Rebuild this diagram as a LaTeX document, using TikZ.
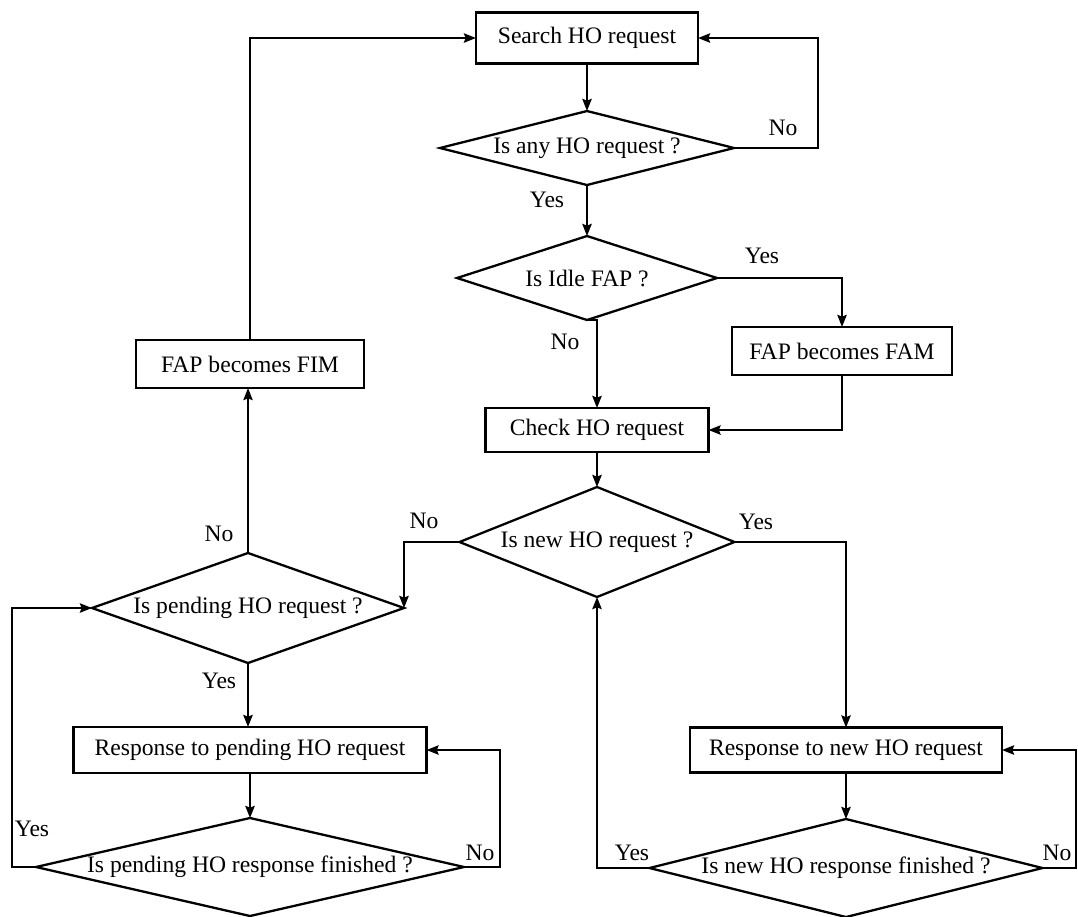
\documentclass[tikz,border=0pt]{standalone}
\usepackage{fontspec}
\setmainfont{Liberation Serif}
\usetikzlibrary{shapes.geometric,arrows.meta}
\tikzset{
  txt/.style={font=\fontsize{11.8pt}{14pt}\selectfont},
  procbox/.style={txt,draw,rectangle,line width=1.15pt,inner sep=0pt,outer sep=0pt},
  decide/.style={txt,draw,diamond,line width=1.15pt,inner sep=-4pt,outer sep=0pt},
  flow/.style={line width=1.15pt,-{Stealth[length=6pt,width=4.6pt,inset=0.8pt]}},
  lbl/.style={txt,inner sep=0pt}
}
\begin{document}
\begin{tikzpicture}[x=0.5pt,y=-0.5pt]
  \useasboundingbox (0,0) rectangle (1078,917);

  % process boxes
  \node[procbox,minimum width=111pt,minimum height=25.5pt] (search) at (587,38) {Search HO request};
  \node[procbox,minimum width=110pt,minimum height=24pt] (fam) at (842,351) {FAP becomes FAM};
  \node[procbox,minimum width=111.5pt,minimum height=22pt] (check) at (597,430) {Check HO request};
  \node[procbox,minimum width=114pt,minimum height=24pt] (fim) at (250,364) {FAP becomes FIM};
  \node[procbox,minimum width=176.5pt,minimum height=23pt] (rpend) at (250,750) {Response to pending HO request};
  \node[procbox,minimum width=156pt,minimum height=22.5pt] (rnew) at (846,750) {Response to new HO request};

  % decisions
  \node[decide,minimum width=147pt,minimum height=37pt,aspect=3.97] (any) at (587,148) {Is any HO request ?};
  \node[decide,minimum width=130pt,minimum height=42pt,aspect=3.1] (idle) at (587,278) {Is Idle FAP ?};
  \node[decide,minimum width=137.5pt,minimum height=55pt,aspect=2.5] (new) at (597,542) {Is new HO request ?};
  \node[decide,minimum width=156pt,minimum height=55pt,aspect=2.84] (pend) at (248,608) {Is pending HO request ?};
  \node[decide,minimum width=214pt,minimum height=49pt,aspect=4.37] (pfin) at (250,867) {Is pending HO response finished ?};
  \node[decide,minimum width=196.5pt,minimum height=49pt,aspect=4.0] (nfin) at (846,868) {Is new HO response finished ?};

  % turning points of the loops
  \coordinate (anyR) at (818,148);
  \coordinate (pfinL) at (12,867);
  \coordinate (pfinR) at (500,867);
  \coordinate (nfinR) at (1076,868);

  % connectors
  \draw[flow] (search.south) -- (any.north);
  \draw[flow] (any.east) -- (anyR) |- (search.east);
  \draw[flow] (any.south) -- (idle.north);
  \draw[flow] (idle.east) -| (fam.north);
  \draw[flow] (idle.south) -- (idle.south -| check.north) -- (check.north);
  \draw[flow] (fam.south) |- (check.east);
  \draw[flow] (check.south) -- (new.north);
  \draw[flow] (new.west) -| (pend.east);
  \draw[flow] (pend.north) -- (pend.north |- fim.south);
  \draw[flow] (fim.north) |- (search.west);
  \draw[flow] (pend.south) -- (pend.south |- rpend.north);
  \draw[flow] (rpend.south) -- (pfin.north);
  \draw[flow] (pfin.west) -- (pfinL) |- (pend.west);
  \draw[flow] (pfin.east) -- (pfinR) |- (rpend.east);
  \draw[flow] (new.east) -| (rnew.north);
  \draw[flow] (rnew.south) -- (nfin.north);
  \draw[flow] (nfin.west) -| (new.south);
  \draw[flow] (nfin.east) -- (nfinR) |- (rnew.east);

  % branch labels
  \node[lbl] (l1) at (783,128) {No};
  \node[lbl] (l2) at (547,200) {Yes};
  \node[lbl] (l3) at (762,256) {Yes};
  \node[lbl] (l4) at (565,342) {No};
  \node[lbl] (l5) at (424,521) {No};
  \node[lbl] (l6) at (756,522) {Yes};
  \node[lbl] (l7) at (219,534) {No};
  \node[lbl] (l8) at (219,681) {Yes};
  \node[lbl] (l9) at (32,829) {Yes};
  \node[lbl] (l10) at (480,853) {No};
  \node[lbl] (l11) at (632,853) {Yes};
  \node[lbl] (l12) at (1057,853) {No};
\end{tikzpicture}
\end{document}
